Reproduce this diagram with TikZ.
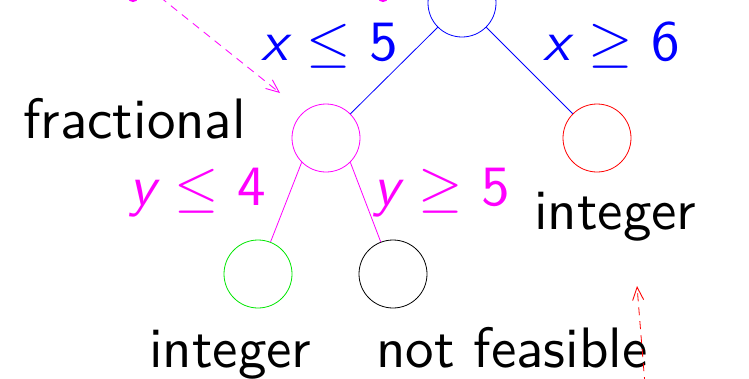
\documentclass[tikz,border=0pt]{standalone}
\usetikzlibrary{arrows.meta}
\definecolor{pink}{RGB}{255,0,255}
\definecolor{lime}{RGB}{0,230,0}
\begin{document}
\begin{tikzpicture}[x=1pt,y=-1pt,
  bnode/.style={circle,draw,line width=0.8pt,minimum size=68pt,inner sep=0pt},
  edge/.style={line width=0.8pt},
  lbl/.style={font=\sffamily\fontsize{10}{12}\selectfont,scale=5.7,inner sep=0pt,anchor=base west},
  note/.style={dash pattern=on 8pt off 6pt,line width=0.8pt,-{Straight Barb[length=13pt,width=11pt,line width=0.9pt]}}]
\useasboundingbox (0,0) rectangle (749,378);
\clip (0,0) rectangle (749,378);

% tree nodes
\node[bnode,draw=blue]    (root)  at (462,3)   {};
\node[bnode,draw=pink]    (frac)  at (326,138) {};
\node[bnode,draw=red]     (right) at (597,138) {};
\node[bnode,draw=lime]    (left)  at (258,274) {};
\node[bnode,draw=black]   (nf)    at (393,274) {};

% branches
\draw[edge,blue] (root.south west) -- (frac);
\draw[edge,blue] (root.south east) -- (right);
\draw[edge,pink] (frac.south west) -- (left);
\draw[edge,pink] (frac.south east) -- (nf);

% branching constraints
\node[lbl,text=blue] (c1) at (260,60)  {\itshape x\upshape\ \(\leq\) 5};
\node[lbl,text=blue] (c2) at (542,60)  {\itshape x\upshape\ \(\geq\) 6};
\node[lbl,text=pink] (c3) at (128,205) {\itshape y\upshape\ \(\leq\) 4};
\node[lbl,text=pink] (c4) at (372,205) {\itshape y\upshape\ \(\geq\) 5};

% node status
\node[lbl] (s1) at (22,138)  {fractional};
\node[lbl] (s2) at (533,229) {integer};
\node[lbl] (s3) at (148,367) {integer};
\node[lbl] (s4) at (375,367) {not feasible};

% remarks pointing into the tree
\coordinate (m0) at (160,-3);
\coordinate (m1) at (280,93);
\draw[note,pink] (m0) -- (m1);
\coordinate (r0) at (645,385);
\coordinate (r1) at (637,286);
\draw[note,red] (r0) -- (r1);

% text above, cut off by the frame
\fill[pink] (133,-2) ellipse (5pt and 4pt);
\fill[pink] (383,-2) ellipse (5pt and 4pt);
\end{tikzpicture}
\end{document}
